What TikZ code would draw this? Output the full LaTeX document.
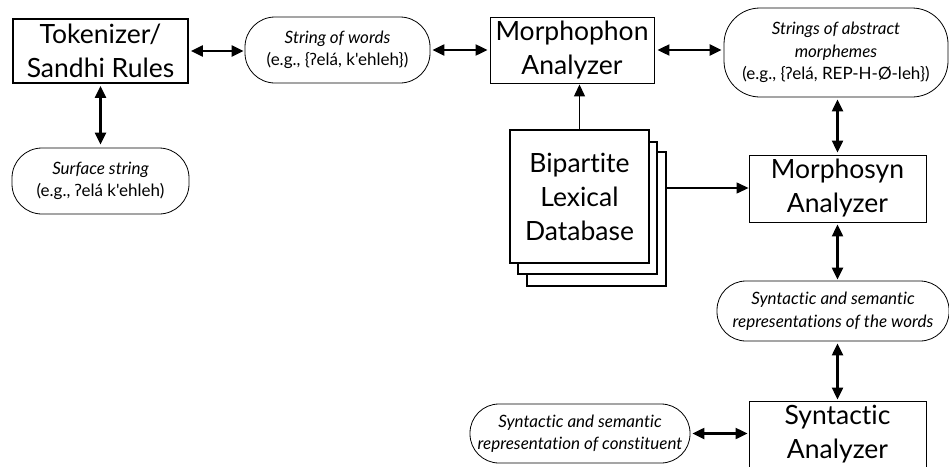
\documentclass[tikz,border=0pt]{standalone}
\usepackage{fontspec}
\setmainfont{Lato}[Ligatures={NoCommon,TeXOff}]
\newfontfamily\ipafont{Noto Sans}
\usetikzlibrary{arrows.meta,positioning}
\newcommand{\gs}{{\ipafont\fontsize{16}{16}\selectfont ʔ}}
\tikzset{
  big/.style={font=\fontsize{26.5}{34}\selectfont, align=center, inner sep=0pt},
  box/.style={big, draw, line width=0.9pt},
  tbox/.style={big, draw, line width=1.8pt},
  pill/.style={draw, line width=0.8pt, rounded corners=30pt, align=center, inner sep=0pt,
     font=\fontsize{17}{22.5}\selectfont\itshape},
  dbl/.style={line width=2.2pt, {Triangle[length=12pt,width=11pt]}-{Triangle[length=12pt,width=11pt]}},
  sgl/.style={line width=1.3pt, -{Triangle[length=12pt,width=11pt]}},
  dbbox/.style={draw, line width=2.6pt, fill=white}
}
\begin{document}
\begin{tikzpicture}[x=1pt,y=-1pt]
\useasboundingbox (0,0) rectangle (949,466);
% nodes
\node[tbox, minimum width=175pt, minimum height=64pt] (tok) at (100.5,51) {Tokenizer/\\Sandhi Rules};
\node[pill, minimum width=185pt, minimum height=66pt] (sow) at (337.5,50) {String of words\\{\upshape(e.g., \{\gs elá, k'ehleh\})}};
\node[box, minimum width=164pt, minimum height=66pt] (mph) at (572,50) {Morphophon\\Analyzer};
\node[pill, rounded corners=36pt, minimum width=224pt, minimum height=89pt] (sam) at (836,52.5) {Strings of abstract\\morphemes\\{\upshape(e.g., \{\gs elá, REP-H-Ø-leh\})}};
\node[pill, minimum width=177pt, minimum height=66pt] (surf) at (100.5,181) {Surface string\\{\upshape(e.g., \gs elá k'ehleh)}};
% database stack
\draw[dbbox] (527,152) rectangle (666,286);
\draw[dbbox] (518,142) rectangle (657,274);
\node[dbbox, big, minimum width=139pt, minimum height=133pt] (db) at (579.5,196.5) {Bipartite\\Lexical\\Database};
\coordinate (dbr) at (666,188);
\node[box, minimum width=177pt, minimum height=67pt] (msyn) at (837.5,188.5) {Morphosyn\\Analyzer};
\node[pill, rounded corners=29pt, minimum width=232pt, minimum height=60pt] (wrd) at (833,311) {Syntactic and semantic\\representations of the words};
\node[box, minimum width=177pt, minimum height=66pt] (syn) at (837.5,434) {Syntactic\\Analyzer};
\node[pill, rounded corners=29pt, minimum width=220pt, minimum height=59pt] (con) at (580,433.5) {Syntactic and semantic\\representation of constituent};
% connectors
\draw[dbl] ([xshift=2pt]tok.east) -- ([xshift=-1pt]sow.west |- tok.east);
\draw[dbl] ([xshift=2pt]sow.east) -- ([xshift=-2pt]mph.west);
\draw[dbl] ([xshift=3pt]mph.east) -- ([xshift=-2pt]sam.west |- mph.east);
\draw[dbl] ([yshift=-2pt]tok.south) -- ([yshift=3pt]surf.north);
\draw[sgl] (db.north) -- ([yshift=-1pt]mph.south -| db.north);
\draw[sgl] (dbr) -- (msyn.west |- dbr);
\draw[dbl] ([yshift=-2pt]sam.south -| msyn.north) -- ([yshift=2pt]msyn.north);
\draw[dbl] ([yshift=-2pt]msyn.south) -- ([yshift=1pt]wrd.north -| msyn.south);
\draw[dbl] ([yshift=-2pt]wrd.south -| syn.north) -- ([yshift=1pt]syn.north);
\draw[dbl] ([xshift=2pt]con.east) -- ([xshift=-1pt]syn.west |- con.east);
\end{tikzpicture}
\end{document}
